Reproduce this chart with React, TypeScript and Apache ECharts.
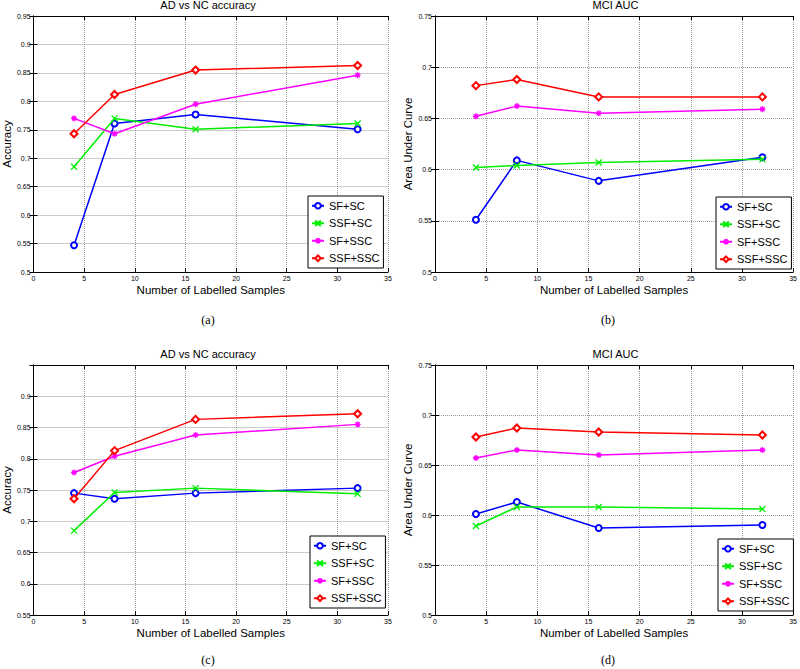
import React, { useEffect, useRef } from "react";
import * as echarts from "echarts";

const samples = [4, 8, 16, 32];
const seriesNames = ["SF+SC", "SSF+SC", "SF+SSC", "SSF+SSC"];

// Panel (a) AD vs NC accuracy
const aSFSC = [0.547, 0.761, 0.777, 0.751];
const aSSFSC = [0.685, 0.770, 0.751, 0.761];
const aSFSSC = [0.770, 0.743, 0.795, 0.846];
const aSSFSSC = [0.743, 0.812, 0.855, 0.863];

// Panel (b) MCI AUC
const bSFSC = [0.551, 0.609, 0.589, 0.612];
const bSSFSC = [0.602, 0.604, 0.607, 0.610];
const bSFSSC = [0.652, 0.662, 0.655, 0.659];
const bSSFSSC = [0.682, 0.688, 0.671, 0.671];

// Panel (c) AD vs NC accuracy
const cSFSC = [0.745, 0.736, 0.745, 0.753];
const cSSFSC = [0.685, 0.746, 0.753, 0.744];
const cSFSSC = [0.778, 0.804, 0.838, 0.855];
const cSSFSSC = [0.736, 0.813, 0.863, 0.872];

// Panel (d) MCI AUC
const dSFSC = [0.601, 0.613, 0.587, 0.590];
const dSSFSC = [0.589, 0.608, 0.608, 0.606];
const dSFSSC = [0.657, 0.665, 0.660, 0.665];
const dSSFSSC = [0.678, 0.687, 0.683, 0.680];

const panelTitles = ["AD vs NC accuracy", "MCI AUC", "AD vs NC accuracy", "MCI AUC"];
const yNames = ["Accuracy", "Area Under Curve", "Accuracy", "Area Under Curve"];
const xName = "Number of Labelled Samples";
const captions = ["(a)", "(b)", "(c)", "(d)"];
const yMins = [0.5, 0.5, 0.55, 0.5];
const yMaxs = [0.95, 0.75, 0.95, 0.75];

const panelData = [
  [aSFSC, aSSFSC, aSFSSC, aSSFSSC],
  [bSFSC, bSSFSC, bSFSSC, bSSFSSC],
  [cSFSC, cSSFSC, cSFSSC, cSSFSSC],
  [dSFSC, dSSFSC, dSFSSC, dSSFSSC],
];

const colors = ["#0000ff", "#00ee00", "#ff00ff", "#ff0000"];
const symbols = [
  "emptyCircle",
  "path://M0,0L10,10M10,0L0,10",
  "path://M5,0L5,10M0,5L10,5M1.5,1.5L8.5,8.5M8.5,1.5L1.5,8.5",
  "emptyDiamond",
];
const symbolSizes = [6, 6, 6, 7];

const FONT = "Liberation Sans, Arial, Helvetica, sans-serif";

const grids = [
  { left: 28, top: 16, width: 360, height: 256 },
  { left: 435, top: 16, width: 361, height: 256 },
  { left: 28, top: 365, width: 360, height: 250 },
  { left: 435, top: 365, width: 361, height: 250 },
];
const legendPos = [
  { left: 308, top: 196 },
  { left: 716, top: 197 },
  { left: 310, top: 536 },
  { left: 718, top: 539 },
];
const yNameGaps = [16, 17, 16, 17];

export default function App() {
  const ref = useRef<HTMLDivElement>(null);
  useEffect(() => {
    document.body.style.margin = "0";
    if (!ref.current) return;
    const chart = echarts.init(ref.current, undefined, { renderer: "svg" });

    const xAxes: any[] = [];
    const yAxes: any[] = [];
    grids.forEach((g, i) => {
      xAxes.push({
        type: "value",
        gridIndex: i,
        min: 0,
        max: 35,
        interval: 5,
        name: xName,
        nameLocation: "middle",
        nameGap: 12,
        nameTextStyle: { fontFamily: FONT, fontSize: 11.5, color: "#000" },
        axisLine: { show: true, lineStyle: { color: "#000", width: 1 } },
        axisTick: { show: true, inside: true, length: 4, lineStyle: { color: "#000" } },
        axisLabel: { fontFamily: FONT, fontSize: 7, color: "#000", margin: 3 },
        splitLine: { show: true, lineStyle: { type: "dotted", color: "#999", width: 1 } },
      });
      yAxes.push({
        type: "value",
        gridIndex: i,
        min: yMins[i],
        max: yMaxs[i],
        interval: 0.05,
        name: yNames[i],
        nameLocation: "middle",
        nameGap: yNameGaps[i],
        nameTextStyle: { fontFamily: FONT, fontSize: 11.5, color: "#000" },
        axisLine: { show: true, lineStyle: { color: "#000", width: 1 } },
        axisTick: { show: true, inside: true, length: 4, lineStyle: { color: "#000" } },
        axisLabel: {
          fontFamily: FONT,
          fontSize: 7,
          color: "#000",
          margin: 3,
          showMaxLabel: i !== 2,
          formatter: (v: number) => String(parseFloat(v.toFixed(2))),
        },
        splitLine: { show: true, lineStyle: { type: "dotted", color: "#999", width: 1 } },
      });
    });
    // top and right mirror axes for box ticks
    grids.forEach((g, i) => {
      xAxes.push({
        type: "value",
        gridIndex: i,
        position: "top",
        min: 0,
        max: 35,
        interval: 5,
        axisLine: { show: true, lineStyle: { color: "#000", width: 1 } },
        axisTick: { show: true, inside: true, length: 4, lineStyle: { color: "#000" } },
        axisLabel: { show: false },
        splitLine: { show: false },
      });
      yAxes.push({
        type: "value",
        gridIndex: i,
        position: "right",
        min: yMins[i],
        max: yMaxs[i],
        interval: 0.05,
        axisLine: { show: true, lineStyle: { color: "#000", width: 1 } },
        axisTick: { show: true, inside: true, length: 4, lineStyle: { color: "#000" } },
        axisLabel: { show: false },
        splitLine: { show: false },
      });
    });

    const series: any[] = [];
    panelData.forEach((pd, p) => {
      pd.forEach((vals, s) => {
        series.push({
          type: "line",
          name: seriesNames[s],
          xAxisIndex: p,
          yAxisIndex: p,
          data: samples.map((x, k) => [x, vals[k]]),
          symbol: symbols[s],
          symbolSize: symbolSizes[s],
          showAllSymbol: true,
          lineStyle: { color: colors[s], width: 1.5 },
          itemStyle: { color: colors[s], borderColor: colors[s], borderWidth: 1.3 },
          z: 3 + s,
        });
      });
    });

    const legends = legendPos.map((lp) => ({
      left: lp.left,
      top: lp.top,
      orient: "vertical",
      data: seriesNames,
      backgroundColor: "#fff",
      borderColor: "#000",
      borderWidth: 1,
      padding: [3, 4, 3, 3],
      itemGap: 4,
      itemWidth: 12,
      itemHeight: 7,
      textStyle: { fontFamily: FONT, fontSize: 11, color: "#000", lineHeight: 13.5 },
      selectedMode: false,
    }));

    const graphics: any[] = [];
    grids.forEach((g, i) => {
      graphics.push({
        type: "text",
        x: g.left + g.width / 2,
        y: g.top - 11,
        style: {
          text: panelTitles[i],
          fill: "#000",
          font: `11px ${FONT}`,
          align: "center",
          verticalAlign: "middle",
        },
      });
      graphics.push({
        type: "text",
        x: i % 2 === 0 ? 208 : 608,
        y: i < 2 ? 320 : 660,
        style: {
          text: captions[i],
          fill: "#000",
          font: `12px "Liberation Serif", "Times New Roman", serif`,
          align: "center",
          verticalAlign: "middle",
        },
      });
    });

    chart.setOption({
      animation: false,
      backgroundColor: "#fff",
      grid: grids.map((g) => ({ ...g, show: false, containLabel: false })),
      xAxis: xAxes,
      yAxis: yAxes,
      legend: legends,
      series,
      graphic: graphics,
    });
    return () => chart.dispose();
  }, []);
  return <div ref={ref} style={{ width: 800, height: 669 }} />;
}
